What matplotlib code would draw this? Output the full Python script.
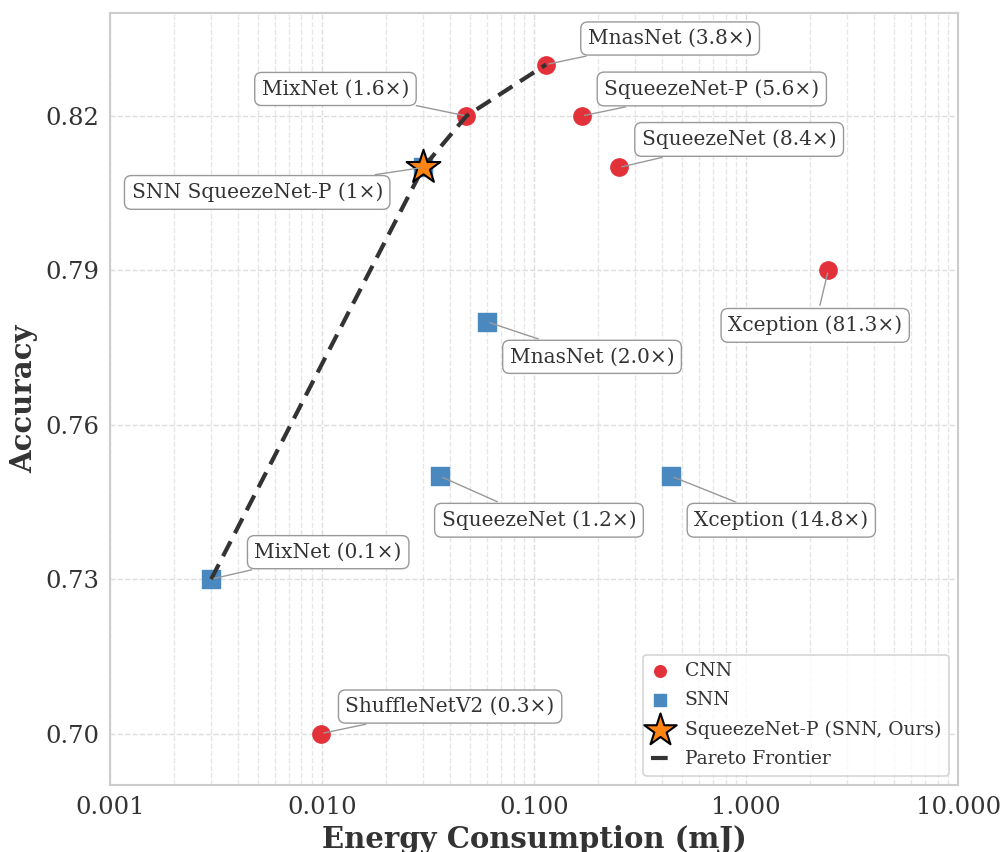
import matplotlib
matplotlib.use("Agg")
import matplotlib.pyplot as plt
import numpy as np

plt.rcParams['font.family'] = ['DejaVu Serif']

# energy (mJ) and accuracy, multipliers are relative to SNN SqueezeNet-P
cnn_names = ['MnasNet', 'MixNet', 'SqueezeNet-P', 'SqueezeNet', 'Xception', 'ShuffleNetV2']
cnn_energy = [0.114, 0.048, 0.168, 0.252, 2.44, 0.0099]
cnn_acc = [0.83, 0.82, 0.82, 0.81, 0.79, 0.70]
cnn_ratio = ['3.8', '1.6', '5.6', '8.4', '81.3', '0.3']

snn_names = ['MnasNet', 'SqueezeNet', 'Xception', 'MixNet', 'SqueezeNet-P']
snn_energy = [0.06, 0.036, 0.444, 0.003, 0.03]
snn_acc = [0.78, 0.75, 0.75, 0.73, 0.81]
snn_ratio = ['2.0', '1.2', '14.8', '0.1', None]

ours_energy = 0.03
ours_acc = 0.81

pareto_energy = [0.003, 0.03, 0.048, 0.114]
pareto_acc = [0.73, 0.81, 0.82, 0.83]

# label offsets in pixels
cnn_offsets = [(124, 26), (-131, 27), (130, 27), (120, 28), (-13, -55), (129, 27)]
snn_offsets = [(105, -35), (99, -44), (110, -44), (117, 27), (-166, -25)]

fig = plt.figure(figsize=(10.03, 8.52), dpi=100)
ax = fig.add_axes([0.1097, 0.0786, 0.8455, 0.9061])

ax.set_xscale('log')
ax.set_xlim(0.001, 10)
ax.set_ylim(0.69, 0.84)

ax.scatter(cnn_energy, cnn_acc, s=155, color='#e3313a', label='CNN', zorder=3)
ax.scatter(snn_energy, snn_acc, s=155, marker='s', color='#4a89c0', label='SNN', zorder=3)
ax.scatter([ours_energy], [ours_acc], s=650, marker='*', color='#ff8412',
           edgecolor='black', linewidth=1.5, label='SqueezeNet-P (SNN, Ours)', zorder=5)
ax.plot(pareto_energy, pareto_acc, '--', color='#333333', lw=3, dashes=(4, 2.2),
        label='Pareto Frontier', zorder=4)

box = dict(boxstyle='round,pad=0.35', fc='white', ec='#999999', lw=1)
arrow = dict(arrowstyle='-', color='#999999', lw=1)

for n, e, a, r, off in zip(cnn_names, cnn_energy, cnn_acc, cnn_ratio, cnn_offsets):
    ax.annotate(f'{n} ({r}\u00d7)', (e, a), xytext=off, textcoords='offset pixels',
                ha='center', va='center', fontsize=14.5, color='#333333',
                bbox=box, arrowprops=arrow, zorder=6)

for n, e, a, r, off in zip(snn_names, snn_energy, snn_acc, snn_ratio, snn_offsets):
    if r is None:
        txt = f'SNN {n} (1\u00d7)'
    else:
        txt = f'{n} ({r}\u00d7)'
    ax.annotate(txt, (e, a), xytext=off, textcoords='offset pixels',
                ha='center', va='center', fontsize=14.5, color='#333333',
                bbox=box, arrowprops=arrow, zorder=6)

ax.set_xticks([0.001, 0.01, 0.1, 1, 10])
ax.set_xticklabels(['0.001', '0.010', '0.100', '1.000', '10.000'])
ax.set_yticks([0.70, 0.73, 0.76, 0.79, 0.82])
ax.set_yticklabels(['0.70', '0.73', '0.76', '0.79', '0.82'])
ax.tick_params(axis='both', which='both', length=0, labelsize=17.5, colors='#333333', pad=8)

ax.grid(True, which='major', ls='--', color='#dddddd', lw=1)
ax.grid(True, which='minor', axis='x', ls='--', color='#e6e6e6', lw=1)
ax.set_axisbelow(True)
for sp in ax.spines.values():
    sp.set_color('#cccccc')
    sp.set_linewidth(1.5)

ax.set_xlabel('Energy Consumption (mJ)', fontsize=21, fontweight='bold', color='#333333', labelpad=4)
ax.set_ylabel('Accuracy', fontsize=21, fontweight='bold', color='#333333', labelpad=5)

leg = ax.legend(loc='lower right', fontsize=13.5, frameon=True, borderpad=0.4,
                handlelength=1.0, labelspacing=0.6, handletextpad=0.83)
leg.get_frame().set_edgecolor('#cccccc')
leg.get_frame().set_linewidth(1.2)
hs = leg.legend_handles
hs[0].set_sizes([70])
hs[1].set_sizes([70])
hs[2].set_sizes([600])
for t in leg.get_texts():
    t.set_color('#333333')

fig.savefig('out.png', dpi=100)
